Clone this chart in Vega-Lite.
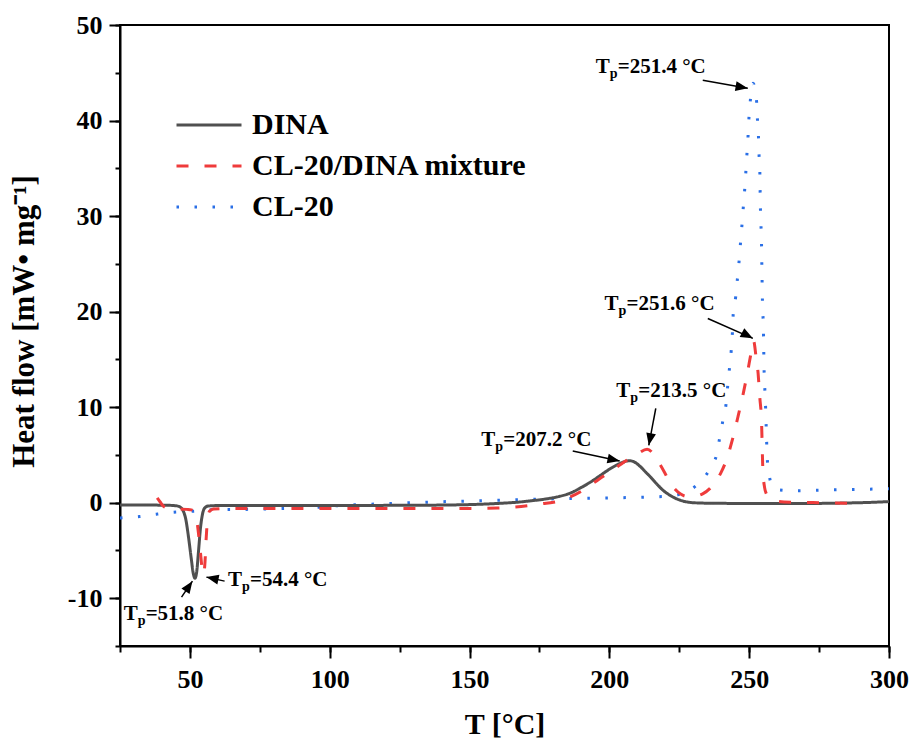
{
  "$schema": "https://vega.github.io/schema/vega-lite/v6.json",
  "width": 769,
  "height": 621,
  "autosize": {"type": "none"},
  "padding": {"left": 120, "top": 25, "right": 21, "bottom": 102},
  "background": "white",
  "config": {"font": "Liberation Serif", "view": {"stroke": "black", "strokeWidth": 2}},
  "resolve": {"axis": {"x": "independent", "y": "independent"}},
  "datasets": {
    "curves": [
      {"s":"CL-20","T":25,"v":-1.6},{"s":"CL-20","T":32,"v":-1.45},{"s":"CL-20","T":38,"v":-1.2},{"s":"CL-20","T":44,"v":-1.0},{"s":"CL-20","T":51,"v":-0.9},{"s":"CL-20","T":57,"v":-0.75},{"s":"CL-20","T":70,"v":-0.7},{"s":"CL-20","T":83,"v":-0.6},{"s":"CL-20","T":95,"v":-0.5},{"s":"CL-20","T":101,"v":-0.35},{"s":"CL-20","T":120,"v":-0.1},{"s":"CL-20","T":140,"v":0.1},{"s":"CL-20","T":160,"v":0.25},{"s":"CL-20","T":180,"v":0.4},{"s":"CL-20","T":200,"v":0.5},{"s":"CL-20","T":215,"v":0.6},{"s":"CL-20","T":222,"v":0.7},{"s":"CL-20","T":226,"v":0.95},{"s":"CL-20","T":229,"v":1.35},{"s":"CL-20","T":231.1,"v":1.8},{"s":"CL-20","T":233.3,"v":2.45},{"s":"CL-20","T":235.3,"v":3.2},{"s":"CL-20","T":237,"v":4.1},{"s":"CL-20","T":238.3,"v":4.95},{"s":"CL-20","T":239.4,"v":6.7},{"s":"CL-20","T":240.6,"v":8.6},{"s":"CL-20","T":241.8,"v":10.5},{"s":"CL-20","T":242.4,"v":12.5},{"s":"CL-20","T":243,"v":14.2},{"s":"CL-20","T":243.6,"v":16.0},{"s":"CL-20","T":244.0,"v":17.8},{"s":"CL-20","T":244.3,"v":19.8},{"s":"CL-20","T":245.2,"v":21.6},{"s":"CL-20","T":245.8,"v":23.45},{"s":"CL-20","T":246.4,"v":25.3},{"s":"CL-20","T":246.9,"v":27.2},{"s":"CL-20","T":247.4,"v":29.0},{"s":"CL-20","T":247.9,"v":30.95},{"s":"CL-20","T":248.4,"v":32.8},{"s":"CL-20","T":248.8,"v":34.6},{"s":"CL-20","T":249.2,"v":36.5},{"s":"CL-20","T":249.6,"v":38.4},{"s":"CL-20","T":249.9,"v":40.2},{"s":"CL-20","T":250.4,"v":42.05},{"s":"CL-20","T":251.4,"v":43.9},{"s":"CL-20","T":252.6,"v":42.2},{"s":"CL-20","T":252.9,"v":40.4},{"s":"CL-20","T":253.3,"v":38.5},{"s":"CL-20","T":253.5,"v":36.6},{"s":"CL-20","T":253.8,"v":34.8},{"s":"CL-20","T":253.9,"v":32.9},{"s":"CL-20","T":254.0,"v":31.1},{"s":"CL-20","T":254.2,"v":29.2},{"s":"CL-20","T":254.4,"v":27.3},{"s":"CL-20","T":254.5,"v":25.4},{"s":"CL-20","T":254.6,"v":23.6},{"s":"CL-20","T":254.7,"v":21.7},{"s":"CL-20","T":254.9,"v":19.85},{"s":"CL-20","T":255.1,"v":18.0},{"s":"CL-20","T":255.2,"v":16.1},{"s":"CL-20","T":255.3,"v":14.3},{"s":"CL-20","T":255.5,"v":12.5},{"s":"CL-20","T":255.8,"v":10.6},{"s":"CL-20","T":256.0,"v":8.7},{"s":"CL-20","T":256.2,"v":6.9},{"s":"CL-20","T":256.4,"v":4.95},{"s":"CL-20","T":257.1,"v":3.0},{"s":"CL-20","T":258.5,"v":1.6},{"s":"CL-20","T":260,"v":1.35},{"s":"CL-20","T":266,"v":1.25},{"s":"CL-20","T":280,"v":1.35},{"s":"CL-20","T":300,"v":1.45},
      {"s":"DINA","T":25,"v":-0.25},{"s":"DINA","T":35,"v":-0.25},{"s":"DINA","T":42,"v":-0.27},{"s":"DINA","T":45,"v":-0.32},{"s":"DINA","T":46.5,"v":-0.45},{"s":"DINA","T":47.5,"v":-0.8},{"s":"DINA","T":48.5,"v":-1.7},{"s":"DINA","T":49.5,"v":-3.6},{"s":"DINA","T":50.5,"v":-5.9},{"s":"DINA","T":51.2,"v":-7.4},{"s":"DINA","T":51.8,"v":-7.9},{"s":"DINA","T":52.4,"v":-7.3},{"s":"DINA","T":53.1,"v":-5.0},{"s":"DINA","T":53.8,"v":-2.6},{"s":"DINA","T":54.5,"v":-1.2},{"s":"DINA","T":55.3,"v":-0.55},{"s":"DINA","T":56.5,"v":-0.35},{"s":"DINA","T":60,"v":-0.3},{"s":"DINA","T":80,"v":-0.3},{"s":"DINA","T":100,"v":-0.3},{"s":"DINA","T":120,"v":-0.28},{"s":"DINA","T":140,"v":-0.25},{"s":"DINA","T":155,"v":-0.15},{"s":"DINA","T":162,"v":-0.05},{"s":"DINA","T":167,"v":0.05},{"s":"DINA","T":172,"v":0.2},{"s":"DINA","T":177,"v":0.38},{"s":"DINA","T":182,"v":0.65},{"s":"DINA","T":186,"v":1.0},{"s":"DINA","T":190,"v":1.6},{"s":"DINA","T":194,"v":2.3},{"s":"DINA","T":197,"v":2.9},{"s":"DINA","T":200,"v":3.5},{"s":"DINA","T":203,"v":4.0},{"s":"DINA","T":205.5,"v":4.3},{"s":"DINA","T":207.2,"v":4.4},{"s":"DINA","T":209,"v":4.25},{"s":"DINA","T":211,"v":3.8},{"s":"DINA","T":213,"v":3.2},{"s":"DINA","T":215,"v":2.6},{"s":"DINA","T":217,"v":1.95},{"s":"DINA","T":219,"v":1.35},{"s":"DINA","T":221,"v":0.9},{"s":"DINA","T":223,"v":0.55},{"s":"DINA","T":225,"v":0.3},{"s":"DINA","T":227,"v":0.12},{"s":"DINA","T":230,"v":0.0},{"s":"DINA","T":235,"v":-0.05},{"s":"DINA","T":250,"v":-0.08},{"s":"DINA","T":270,"v":-0.08},{"s":"DINA","T":285,"v":-0.03},{"s":"DINA","T":295,"v":0.05},{"s":"DINA","T":300,"v":0.12},
      {"s":"CL-20/DINA mixture","T":38.3,"v":0.5},{"s":"CL-20/DINA mixture","T":39.3,"v":0.1},{"s":"CL-20/DINA mixture","T":40.5,"v":-0.35},{"s":"CL-20/DINA mixture","T":42,"v":-0.55},{"s":"CL-20/DINA mixture","T":45,"v":-0.65},{"s":"CL-20/DINA mixture","T":49,"v":-0.7},{"s":"CL-20/DINA mixture","T":50.5,"v":-0.75},{"s":"CL-20/DINA mixture","T":51.5,"v":-0.95},{"s":"CL-20/DINA mixture","T":52.4,"v":-1.7},{"s":"CL-20/DINA mixture","T":53.1,"v":-3.3},{"s":"CL-20/DINA mixture","T":53.8,"v":-5.3},{"s":"CL-20/DINA mixture","T":54.4,"v":-7.0},{"s":"CL-20/DINA mixture","T":54.9,"v":-7.5},{"s":"CL-20/DINA mixture","T":55.4,"v":-6.2},{"s":"CL-20/DINA mixture","T":55.8,"v":-3.8},{"s":"CL-20/DINA mixture","T":56.3,"v":-1.8},{"s":"CL-20/DINA mixture","T":57,"v":-0.9},{"s":"CL-20/DINA mixture","T":58.5,"v":-0.65},{"s":"CL-20/DINA mixture","T":65,"v":-0.6},{"s":"CL-20/DINA mixture","T":90,"v":-0.6},{"s":"CL-20/DINA mixture","T":120,"v":-0.6},{"s":"CL-20/DINA mixture","T":150,"v":-0.6},{"s":"CL-20/DINA mixture","T":160,"v":-0.55},{"s":"CL-20/DINA mixture","T":166,"v":-0.45},{"s":"CL-20/DINA mixture","T":171,"v":-0.3},{"s":"CL-20/DINA mixture","T":176,"v":-0.1},{"s":"CL-20/DINA mixture","T":180,"v":0.05},{"s":"CL-20/DINA mixture","T":183,"v":0.25},{"s":"CL-20/DINA mixture","T":186,"v":0.6},{"s":"CL-20/DINA mixture","T":190,"v":1.2},{"s":"CL-20/DINA mixture","T":194,"v":2.0},{"s":"CL-20/DINA mixture","T":197,"v":2.6},{"s":"CL-20/DINA mixture","T":200,"v":3.2},{"s":"CL-20/DINA mixture","T":204,"v":4.0},{"s":"CL-20/DINA mixture","T":207,"v":4.6},{"s":"CL-20/DINA mixture","T":210,"v":5.1},{"s":"CL-20/DINA mixture","T":213.5,"v":5.6},{"s":"CL-20/DINA mixture","T":215.5,"v":5.2},{"s":"CL-20/DINA mixture","T":217.5,"v":4.3},{"s":"CL-20/DINA mixture","T":219.5,"v":3.3},{"s":"CL-20/DINA mixture","T":221.5,"v":2.2},{"s":"CL-20/DINA mixture","T":223.5,"v":1.4},{"s":"CL-20/DINA mixture","T":225.5,"v":0.9},{"s":"CL-20/DINA mixture","T":228,"v":0.65},{"s":"CL-20/DINA mixture","T":231,"v":0.7},{"s":"CL-20/DINA mixture","T":233.5,"v":0.95},{"s":"CL-20/DINA mixture","T":236,"v":1.5},{"s":"CL-20/DINA mixture","T":238,"v":2.2},{"s":"CL-20/DINA mixture","T":240,"v":3.2},{"s":"CL-20/DINA mixture","T":242,"v":4.6},{"s":"CL-20/DINA mixture","T":244,"v":6.6},{"s":"CL-20/DINA mixture","T":246,"v":9.0},{"s":"CL-20/DINA mixture","T":248,"v":11.6},{"s":"CL-20/DINA mixture","T":249.5,"v":13.8},{"s":"CL-20/DINA mixture","T":250.7,"v":15.7},{"s":"CL-20/DINA mixture","T":251.6,"v":16.9},{"s":"CL-20/DINA mixture","T":252.4,"v":15.4},{"s":"CL-20/DINA mixture","T":253.2,"v":13.5},{"s":"CL-20/DINA mixture","T":253.8,"v":11.0},{"s":"CL-20/DINA mixture","T":254.4,"v":8.6},{"s":"CL-20/DINA mixture","T":254.9,"v":3.4},{"s":"CL-20/DINA mixture","T":255.5,"v":1.6},{"s":"CL-20/DINA mixture","T":256.2,"v":0.9},{"s":"CL-20/DINA mixture","T":257.5,"v":0.4},{"s":"CL-20/DINA mixture","T":260,"v":0.15},{"s":"CL-20/DINA mixture","T":265,"v":0.05},{"s":"CL-20/DINA mixture","T":275,"v":0.0},{"s":"CL-20/DINA mixture","T":285,"v":-0.05}
    ],
    "notes": [
      {"label":"=251.4 °C","tx":195.1,"ty":44.95,"T1":233.4,"v1":44.22,"T2":249.5,"v2":43.38,"angle":100},
      {"label":"=251.6 °C","tx":198.3,"ty":20.14,"T1":235.2,"v1":19.28,"T2":251.3,"v2":17.2,"angle":118},
      {"label":"=213.5 °C","tx":202.5,"ty":11.06,"T1":216.6,"v1":9.87,"T2":214.1,"v2":6.0,"angle":191},
      {"label":"=207.2 °C","tx":154.2,"ty":5.93,"T1":186.9,"v1":5.4,"T2":203.7,"v2":4.36,"angle":102},
      {"label":"=54.4 °C","tx":63.6,"ty":-8.76,"T1":62.4,"v1":-8.21,"T2":55.9,"v2":-7.79,"angle":282},
      {"label":"=51.8 °C","tx":26.3,"ty":-12.25,"T1":47.0,"v1":-9.88,"T2":50.9,"v2":-8.21,"angle":34.5}
    ]
  },
  "layer": [
    {
      "data": {"name": "curves"},
      "mark": {"type": "line", "strokeWidth": 3, "interpolate": "monotone", "clip": true},
      "encoding": {
        "x": {"field": "T", "type": "quantitative",
          "scale": {"domain": [25, 300], "nice": false, "zero": false},
          "axis": {"orient": "bottom", "title": "T [°C]", "values": [50,100,150,200,250,300],
            "grid": false, "domainColor": "black", "domainWidth": 2, "tickColor": "black", "tickWidth": 2, "tickSize": 12,
            "labelFont": "Liberation Serif", "labelFontSize": 26, "labelFontWeight": "bold", "labelColor": "black",
            "labelPadding": 8, "labelFlush": false,
            "titleFont": "Liberation Serif", "titleFontSize": 30, "titleFontWeight": "bold", "titleColor": "black",
            "titleBaseline": "alphabetic", "titleY": 87}},
        "y": {"field": "v", "type": "quantitative",
          "scale": {"domain": [-15, 50], "nice": false, "zero": false},
          "axis": {"orient": "left", "title": "Heat flow   [mW• mg⁻¹]", "values": [-10,0,10,20,30,40,50],
            "labelExpr": "'' + datum.value",
            "grid": false, "domainColor": "black", "domainWidth": 2, "tickColor": "black", "tickWidth": 2, "tickSize": 11,
            "labelFont": "Liberation Serif", "labelFontSize": 26, "labelFontWeight": "bold", "labelColor": "black",
            "labelPadding": 7, "labelFlush": false,
            "titleFont": "Liberation Serif", "titleFontSize": 31, "titleFontWeight": "bold", "titleColor": "black",
            "titleBaseline": "alphabetic", "titleX": -87, "titleY": 296, "titleAngle": -90}},
        "color": {"field": "s", "type": "nominal",
          "scale": {"domain": ["DINA", "CL-20/DINA mixture", "CL-20"], "range": ["#505050", "#ef3b3b", "#2a6fe6"]},
          "legend": {"orient": "none", "legendX": 74, "legendY": 85, "title": null,
            "labelFont": "Liberation Serif", "labelFontSize": 30, "labelFontWeight": "bold", "labelColor": "black", "labelLimit": 0,
            "symbolType": "M-2.5,0H2.5", "symbolSize": 676, "symbolStrokeWidth": 3, "labelOffset": 28, "rowPadding": 11, "padding": 0}},
        "strokeDash": {"field": "s", "type": "nominal",
          "scale": {"domain": ["DINA", "CL-20/DINA mixture", "CL-20"], "range": [[1, 0], [12, 16], [2.5, 15.5]]},
          "legend": {"orient": "none", "legendX": 74, "legendY": 85, "title": null,
            "labelFont": "Liberation Serif", "labelFontSize": 30, "labelFontWeight": "bold", "labelColor": "black", "labelLimit": 0,
            "symbolType": "M-2.5,0H2.5", "symbolSize": 676, "symbolStrokeWidth": 3, "labelOffset": 28, "rowPadding": 11, "padding": 0}}
      }
    },
    {
      "data": {"name": "notes"},
      "mark": {"type": "rule", "color": "black", "strokeWidth": 1.5},
      "encoding": {
        "x": {"field": "T1", "type": "quantitative",
          "axis": {"orient": "bottom", "values": [25,50,75,100,125,150,175,200,225,250,275,300], "labels": false, "title": null, "domain": false, "grid": false, "tickSize": 6, "tickWidth": 2, "tickColor": "black"}},
        "y": {"field": "v1", "type": "quantitative",
          "axis": {"orient": "left", "values": [-15,-10,-5,0,5,10,15,20,25,30,35,40,45,50], "labels": false, "title": null, "domain": false, "grid": false, "tickSize": 5, "tickWidth": 2, "tickColor": "black"}},
        "x2": {"field": "T2"},
        "y2": {"field": "v2"}
      }
    },
    {
      "data": {"name": "notes"},
      "mark": {"type": "point", "shape": "M0,0L-0.4,1L0.4,1Z", "filled": true, "color": "black", "opacity": 1, "size": 600, "strokeWidth": 0},
      "encoding": {
        "x": {"field": "T2", "type": "quantitative", "axis": null},
        "y": {"field": "v2", "type": "quantitative", "axis": null},
        "angle": {"field": "angle", "type": "quantitative", "scale": null}
      }
    },
    {
      "data": {"name": "notes"},
      "mark": {"type": "text", "align": "left", "baseline": "alphabetic", "font": "Liberation Serif", "fontSize": 21, "fontWeight": "bold", "color": "black"},
      "encoding": {
        "x": {"field": "tx", "type": "quantitative", "axis": null},
        "y": {"field": "ty", "type": "quantitative", "axis": null},
        "text": {"value": "T"}
      }
    },
    {
      "data": {"name": "notes"},
      "mark": {"type": "text", "align": "left", "baseline": "alphabetic", "font": "Liberation Serif", "fontSize": 14, "fontWeight": "bold", "color": "black", "dx": 14, "dy": 5},
      "encoding": {
        "x": {"field": "tx", "type": "quantitative", "axis": null},
        "y": {"field": "ty", "type": "quantitative", "axis": null},
        "text": {"value": "p"}
      }
    },
    {
      "data": {"name": "notes"},
      "mark": {"type": "text", "align": "left", "baseline": "alphabetic", "font": "Liberation Serif", "fontSize": 21, "fontWeight": "bold", "color": "black", "dx": 22},
      "encoding": {
        "x": {"field": "tx", "type": "quantitative", "axis": null},
        "y": {"field": "ty", "type": "quantitative", "axis": null},
        "text": {"field": "label"}
      }
    }
  ]
}
